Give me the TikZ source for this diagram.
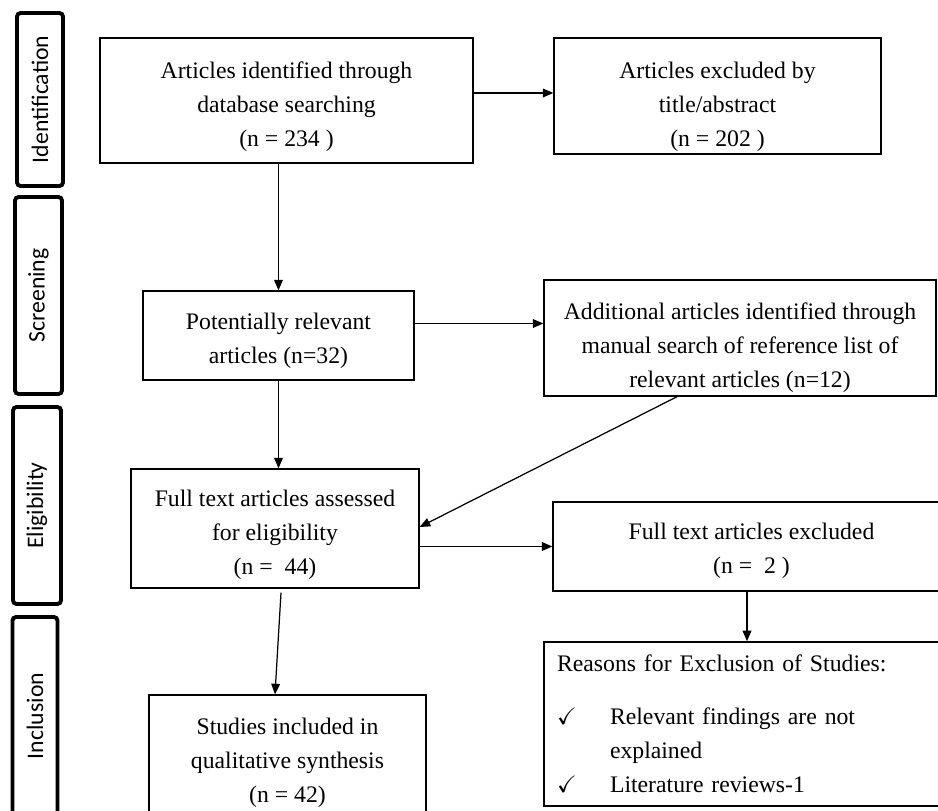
\documentclass[tikz,border=0pt]{standalone}
\usepackage{amssymb}
\usepackage{fontspec}
\setmainfont{Liberation Serif}
\newfontfamily\stagefont{Carlito}
\usetikzlibrary{positioning,arrows.meta}
\newcommand{\txtdown}[1]{\rule{0pt}{#1}}

\begin{document}
\begin{tikzpicture}[
            x=0.02cm, y=-0.02cm,
            box/.style={rectangle, draw, line width=0.8pt, align=center, inner sep=1pt,
                font=\fontsize{13.5}{19.4}\selectfont},
            stage/.style={rectangle, draw, line width=2.2pt, rounded corners=2pt, rotate=90,
                inner sep=0pt, font=\stagefont\fontsize{13.5}{16}\selectfont},
            arr/.style={-{Triangle[length=6pt,width=5pt]}, line width=0.7pt},
            auto
        ]
            \path[use as bounding box, clip] (0,0) rectangle (938,811);
            % Stages
            \node[stage, minimum width=3.46cm, minimum height=0.92cm] (ident) at (40,99.5) {Identification};
            \node[stage, minimum width=3.94cm, minimum height=0.94cm] (screen) at (38.5,295.5) {Screening};
            \node[stage, minimum width=3.94cm, minimum height=0.96cm] (elig) at (37,505.5) {Eligibility};
            \node[stage, minimum width=3.96cm, minimum height=0.90cm] (incl) at (35,716) {Inclusion};
            % Boxes
            \node[box, minimum width=7.46cm, minimum height=2.5cm] (found) at (286.5,100.5)
                {\txtdown{16.7pt}Articles identified through\\database searching\\(n = 234 )};
            \node[box, minimum width=6.54cm, minimum height=2.32cm] (title) at (717.5,96)
                {\txtdown{21.5pt}Articles excluded by\\title/abstract\\(n = 202 )};
            \node[box, minimum width=5.42cm, minimum height=1.78cm] (relev) at (278.5,335.5)
                {\txtdown{15.6pt}Potentially relevant\\articles (n=32)};
            \node[box, minimum width=7.84cm, minimum height=2.32cm] (manual) at (740,338)
                {\txtdown{20.5pt}Additional articles identified through\\manual search of reference list of\\relevant articles (n=12)};
            \node[box, minimum width=5.76cm, minimum height=2.38cm] (full) at (275,528.5)
                {\txtdown{16.7pt}Full text articles assessed\\for eligibility\\(n = \ 44)};
            \node[box, minimum width=7.94cm, minimum height=1.78cm] (fexcl) at (751.5,546.5)
                {\txtdown{14.4pt}Full text articles excluded\\(n = \ 2 )};
            \node[box, align=left, text width=7.6cm, inner sep=0.26cm, minimum height=3.28cm] (reasons) at (747,724)
                {Reasons for Exclusion of Studies:\\[0.38cm]
                \makebox[1.06cm][l]{$\checkmark$}Relevant findings are not\\
                \hspace*{1.06cm}explained\\
                \makebox[1.06cm][l]{$\checkmark$}Literature reviews-1};
            \node[box, minimum width=5.54cm, minimum height=2.7cm] (studies) at (287.5,762.5)
                {Studies included in\\qualitative synthesis\\(n = 42)};
            % Arrows
            \draw[arr] ([yshift=0.06cm]found.east |- title.west) -- ([yshift=0.06cm]title.west);
            \draw[arr] (found.south -| relev.north) -- (relev.north);
            \draw[arr] ([yshift=0.24cm]relev.east) -- ([yshift=0.24cm]relev.east -| manual.west);
            \draw[arr] (relev.south) -- (relev.south |- full.north);
            \draw[arr] ([xshift=-1.26cm]manual.south) -- ([yshift=0.03cm]full.east);
            \draw[arr] (full.east |- fexcl.west) -- (fexcl.west);
            \draw[arr] (fexcl.south -| reasons.north) -- (reasons.north);
            \draw[arr] ([xshift=0.12cm, yshift=-0.08cm]full.south) -- ([xshift=-0.25cm]studies.north);
        \end{tikzpicture}
\end{document}
